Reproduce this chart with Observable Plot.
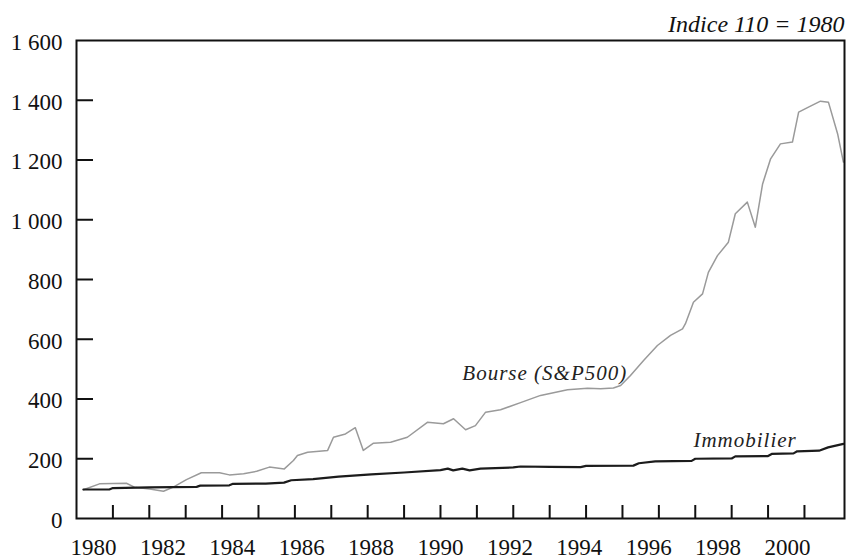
<!DOCTYPE html>
<html>
<head>
<meta charset="utf-8">
<script src="https://cdn.jsdelivr.net/npm/d3@7"></script>
<script src="https://cdn.jsdelivr.net/npm/@observablehq/plot@0.6"></script>
<style>
  html, body { margin: 0; padding: 0; background: #fff; }
  #chart { position: relative; width: 849px; height: 559px; }
  #chart svg { display: block; }
  #chart svg.year-labels { position: absolute; left: 0; top: 518px; background: transparent !important; }
  #chart g[font-size="21"] text { letter-spacing: 1px; }
</style>
</head>
<body>
<div id="chart"></div>
<script>
// Series: Bourse (S&P500), index 100 = 1980
const bourseYears = [1980.19, 1980.63, 1981.37, 1981.59, 1982.01, 1982.39, 1982.66, 1983.02, 1983.43, 1983.93,
  1984.20, 1984.59, 1984.95, 1985.30, 1985.71, 1985.96, 1986.07, 1986.35, 1986.90, 1987.06,
  1987.39, 1987.66, 1987.88, 1988.16, 1988.63, 1989.09, 1989.64, 1990.08, 1990.36, 1990.69,
  1990.96, 1991.24, 1991.65, 1992.20, 1992.75, 1993.49, 1994.04, 1994.40, 1994.75, 1994.95,
  1995.22, 1995.58, 1995.96, 1996.32, 1996.65, 1996.73, 1996.95, 1997.20, 1997.36, 1997.61,
  1997.91, 1998.10, 1998.43, 1998.65, 1998.85, 1999.07, 1999.34, 1999.67, 1999.84, 2000.11,
  2000.44, 2000.66, 2000.91, 2001.07];
const bourseValues = [96, 116, 118, 105, 99, 91, 105, 130, 153, 153,
  146, 150, 158, 172, 166, 194, 211, 222, 228, 272,
  283, 304, 228, 252, 255, 272, 322, 317, 334, 297,
  311, 356, 364, 388, 412, 431, 436, 434, 437, 445,
  479, 529, 579, 613, 635, 652, 724, 752, 824, 880,
  925, 1020, 1059, 975, 1120, 1204, 1254, 1260, 1360, 1377,
  1397, 1393, 1288, 1193];

// Series: Immobilier
const immoYears = [1980.19, 1980.9, 1981.0, 1982.0, 1983.3, 1983.4, 1984.2, 1984.3, 1985.2, 1985.7,
  1985.9, 1986.5, 1987.2, 1988.1, 1989.0, 1990.0, 1990.2, 1990.35, 1990.6, 1990.8,
  1991.1, 1992.0, 1992.2, 1993.0, 1993.85, 1994.0, 1995.3, 1995.45, 1995.9, 1996.9,
  1997.0, 1998.0, 1998.1, 1999.0, 1999.1, 1999.7, 1999.8, 2000.4, 2000.65, 2001.07];
const immoValues = [97, 97, 102, 104, 106, 110, 111, 116, 117, 120,
  128, 132, 140, 148, 154, 162, 167, 161, 167, 161,
  167, 171, 174, 173, 172, 176, 177, 185, 191, 193,
  200, 201, 208, 209, 216, 218, 225, 227, 238, 250];

// Axes
const yTickValues = [0, 200, 400, 600, 800, 1000, 1200, 1400, 1600];
const xTickYears = [1981, 1982, 1983, 1984, 1985, 1986, 1987, 1988, 1989, 1990,
  1991, 1992, 1993, 1994, 1995, 1996, 1997, 1998, 1999, 2000];
const xLabelYears = [1980, 1982, 1984, 1986, 1988, 1990, 1992, 1994, 1996, 1998, 2000];

// Texts
const titleText = "Indice 110 = 1980";
const seriesNames = ["Bourse (S&P500)", "Immobilier"];
const seriesLabelYears = [1990.6, 1996.95];
const seriesLabelValues = [462, 241];

const bourse = bourseYears.map((x, i) => ({x, y: bourseValues[i]}));
const immo = immoYears.map((x, i) => ({x, y: immoValues[i]}));
const seriesLabels = seriesNames.map((name, i) => ({name, x: seriesLabelYears[i], y: seriesLabelValues[i]}));

const fr = d3.formatLocale({decimal: ",", thousands: " ", grouping: [3], currency: ["", " €"]});
const fmt = fr.format(",");

const font = "'Liberation Serif', 'Times New Roman', serif";

const main = Plot.plot({
  width: 849,
  height: 559,
  marginLeft: 76,
  marginRight: 5,
  marginTop: 40,
  marginBottom: 41,
  style: {fontFamily: font, fontSize: "23px", color: "#111", background: "#fff"},
  x: {domain: [1980, 2001.1], axis: null},
  y: {domain: [0, 1600], axis: null},
  marks: [
    Plot.line(bourse, {x: "x", y: "y", stroke: "#9a9a9a", strokeWidth: 1.5}),
    Plot.line(immo, {x: "x", y: "y", stroke: "#1c1c1c", strokeWidth: 2.2}),
    Plot.axisY({ticks: yTickValues, tickSize: 0, tickPadding: 14, tickFormat: fmt, fontSize: 23, dy: 2, label: null}),
    Plot.axisY({ticks: yTickValues.slice(1, -1), tickSize: -17, text: null, strokeWidth: 2, stroke: "#111", label: null}),
    Plot.axisX({ticks: xTickYears, tickSize: -13, text: null, strokeWidth: 2, stroke: "#111", label: null}),
    Plot.frame({stroke: "#111", strokeWidth: 2}),
    Plot.text(seriesLabels, {x: "x", y: "y", text: "name", textAnchor: "start", lineAnchor: "bottom",
      fontStyle: "italic", fontSize: 21, fill: "#222"}),
    Plot.text([titleText], {frameAnchor: "top-right", textAnchor: "end", lineAnchor: "bottom", dy: -9,
      fontStyle: "italic", fontSize: 24, fill: "#111"})
  ]
});

// Year labels of the original are laid out on their own, slightly tighter spacing
const labels = Plot.plot({
  width: 849,
  height: 41,
  marginLeft: 93,
  marginRight: 62,
  marginTop: 0,
  marginBottom: 5,
  style: {fontFamily: font, fontSize: "23px", color: "#111", background: "transparent"},
  x: {domain: [1980, 2000], axis: null},
  marks: [
    Plot.text(xLabelYears, {x: d => d, frameAnchor: "bottom", lineAnchor: "bottom", text: d => String(d), fontSize: 23, fill: "#111"})
  ]
});
labels.classList.add("year-labels");

document.getElementById("chart").append(main, labels);
</script>
</body>
</html>
